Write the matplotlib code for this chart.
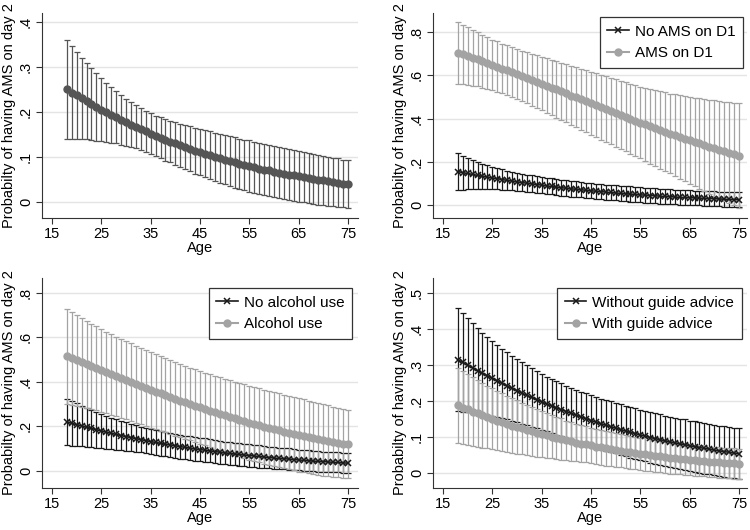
import numpy as np
import matplotlib
matplotlib.use('Agg')
import matplotlib.pyplot as plt
from matplotlib.lines import Line2D

plt.rcParams['font.family'] = ['Liberation Sans', 'DejaVu Sans']

#- ages on the x axis
ages = list(range(18, 76))

#- panel 1: overall predicted probability and CI half-width
p_all = [0.250, 0.243, 0.237, 0.230, 0.224, 0.217, 0.211, 0.205, 0.199, 0.194,
         0.188, 0.182, 0.177, 0.172, 0.167, 0.162, 0.157, 0.152, 0.147, 0.143,
         0.138, 0.134, 0.130, 0.126, 0.122, 0.118, 0.114, 0.111, 0.107, 0.104,
         0.100, 0.097, 0.094, 0.091, 0.088, 0.085, 0.082, 0.080, 0.077, 0.074,
         0.072, 0.070, 0.067, 0.065, 0.063, 0.061, 0.059, 0.057, 0.055, 0.053,
         0.051, 0.049, 0.048, 0.046, 0.044, 0.043, 0.041, 0.040]
ci_all = [0.111, 0.104, 0.097, 0.091, 0.085, 0.080, 0.075, 0.070, 0.066, 0.062,
          0.058, 0.055, 0.052, 0.050, 0.048, 0.047, 0.046, 0.045, 0.045, 0.045,
          0.046, 0.046, 0.047, 0.048, 0.049, 0.050, 0.051, 0.052, 0.052, 0.053,
          0.054, 0.054, 0.055, 0.055, 0.056, 0.056, 0.056, 0.057, 0.057, 0.057,
          0.057, 0.057, 0.057, 0.057, 0.056, 0.056, 0.056, 0.056, 0.056, 0.055,
          0.055, 0.055, 0.055, 0.054, 0.054, 0.054, 0.053, 0.053]

#- panel 2: AMS on day 1
p_noams = [0.155, 0.150, 0.146, 0.142, 0.137, 0.133, 0.129, 0.125, 0.122, 0.118,
           0.114, 0.111, 0.107, 0.104, 0.101, 0.098, 0.095, 0.092, 0.089, 0.086,
           0.083, 0.080, 0.078, 0.075, 0.073, 0.071, 0.068, 0.066, 0.064, 0.062,
           0.060, 0.058, 0.056, 0.054, 0.052, 0.051, 0.049, 0.047, 0.046, 0.044,
           0.043, 0.041, 0.040, 0.039, 0.037, 0.036, 0.035, 0.034, 0.033, 0.032,
           0.031, 0.030, 0.029, 0.028, 0.027, 0.026, 0.025, 0.024]
ci_noams = [0.085, 0.079, 0.073, 0.068, 0.063, 0.059, 0.055, 0.052, 0.049, 0.047,
            0.045, 0.043, 0.042, 0.041, 0.040, 0.039, 0.039, 0.038, 0.038, 0.037,
            0.037, 0.037, 0.036, 0.036, 0.036, 0.036, 0.036, 0.035, 0.035, 0.035,
            0.035, 0.035, 0.035, 0.035, 0.035, 0.035, 0.035, 0.035, 0.035, 0.035,
            0.035, 0.035, 0.035, 0.034, 0.034, 0.034, 0.034, 0.034, 0.034, 0.034,
            0.034, 0.034, 0.034, 0.034, 0.034, 0.034, 0.034, 0.034]
p_ams = [0.705, 0.697, 0.690, 0.682, 0.674, 0.666, 0.657, 0.649, 0.641, 0.632,
         0.624, 0.615, 0.606, 0.598, 0.589, 0.580, 0.571, 0.562, 0.553, 0.544,
         0.535, 0.526, 0.517, 0.507, 0.498, 0.489, 0.480, 0.471, 0.462, 0.453,
         0.444, 0.435, 0.426, 0.417, 0.408, 0.399, 0.390, 0.382, 0.373, 0.364,
         0.356, 0.348, 0.339, 0.331, 0.323, 0.315, 0.307, 0.300, 0.292, 0.285,
         0.277, 0.270, 0.263, 0.256, 0.249, 0.242, 0.235, 0.229]
ci_ams = [0.143, 0.138, 0.133, 0.129, 0.125, 0.122, 0.119, 0.117, 0.116, 0.115,
          0.115, 0.115, 0.116, 0.117, 0.118, 0.120, 0.122, 0.124, 0.126, 0.128,
          0.130, 0.132, 0.134, 0.136, 0.139, 0.141, 0.143, 0.146, 0.148, 0.150,
          0.152, 0.154, 0.156, 0.158, 0.160, 0.162, 0.164, 0.166, 0.169, 0.172,
          0.175, 0.179, 0.182, 0.185, 0.189, 0.193, 0.197, 0.201, 0.205, 0.209,
          0.213, 0.217, 0.221, 0.225, 0.229, 0.233, 0.237, 0.241]

#- panel 3: alcohol use
p_noalc = [0.219, 0.213, 0.207, 0.201, 0.195, 0.190, 0.184, 0.179, 0.173, 0.168,
           0.163, 0.158, 0.153, 0.149, 0.144, 0.140, 0.135, 0.131, 0.127, 0.123,
           0.119, 0.116, 0.112, 0.108, 0.105, 0.101, 0.098, 0.095, 0.092, 0.089,
           0.086, 0.083, 0.080, 0.078, 0.075, 0.073, 0.070, 0.068, 0.066, 0.064,
           0.061, 0.059, 0.057, 0.055, 0.054, 0.052, 0.050, 0.048, 0.047, 0.045,
           0.043, 0.042, 0.041, 0.039, 0.038, 0.037, 0.035, 0.034]
ci_noalc = [0.105, 0.100, 0.096, 0.091, 0.087, 0.084, 0.080, 0.077, 0.074, 0.071,
            0.068, 0.066, 0.064, 0.062, 0.060, 0.058, 0.057, 0.056, 0.055, 0.055,
            0.054, 0.054, 0.054, 0.054, 0.053, 0.053, 0.053, 0.053, 0.053, 0.052,
            0.052, 0.052, 0.051, 0.051, 0.051, 0.051, 0.050, 0.050, 0.050, 0.050,
            0.049, 0.049, 0.049, 0.048, 0.048, 0.048, 0.047, 0.047, 0.047, 0.046,
            0.046, 0.046, 0.045, 0.045, 0.045, 0.045, 0.044, 0.044]
p_alc = [0.514, 0.505, 0.496, 0.487, 0.478, 0.469, 0.460, 0.451, 0.442, 0.433,
         0.424, 0.415, 0.406, 0.398, 0.389, 0.380, 0.372, 0.363, 0.355, 0.347,
         0.339, 0.330, 0.322, 0.315, 0.307, 0.299, 0.292, 0.284, 0.277, 0.270,
         0.263, 0.256, 0.249, 0.242, 0.235, 0.229, 0.223, 0.216, 0.210, 0.204,
         0.198, 0.193, 0.187, 0.182, 0.176, 0.171, 0.166, 0.161, 0.156, 0.152,
         0.147, 0.142, 0.138, 0.134, 0.130, 0.126, 0.122, 0.118]
ci_alc = [0.213, 0.208, 0.204, 0.200, 0.196, 0.192, 0.189, 0.186, 0.183, 0.181,
          0.179, 0.177, 0.175, 0.174, 0.173, 0.172, 0.171, 0.170, 0.169, 0.168,
          0.167, 0.166, 0.165, 0.164, 0.164, 0.163, 0.163, 0.163, 0.163, 0.163,
          0.164, 0.164, 0.164, 0.165, 0.165, 0.165, 0.165, 0.166, 0.166, 0.166,
          0.166, 0.166, 0.166, 0.166, 0.166, 0.165, 0.165, 0.165, 0.164, 0.163,
          0.162, 0.161, 0.160, 0.159, 0.158, 0.156, 0.155, 0.153]

#- panel 4: guide advice
p_noguide = [0.315, 0.307, 0.299, 0.292, 0.284, 0.277, 0.270, 0.263, 0.256, 0.249,
             0.242, 0.235, 0.229, 0.222, 0.216, 0.210, 0.204, 0.198, 0.192, 0.187,
             0.181, 0.176, 0.171, 0.166, 0.161, 0.156, 0.151, 0.146, 0.142, 0.137,
             0.133, 0.129, 0.125, 0.121, 0.117, 0.113, 0.110, 0.106, 0.103, 0.099,
             0.096, 0.093, 0.090, 0.087, 0.084, 0.081, 0.079, 0.076, 0.074, 0.071,
             0.069, 0.067, 0.064, 0.062, 0.060, 0.058, 0.056, 0.054]
ci_noguide = [0.143, 0.136, 0.130, 0.124, 0.118, 0.113, 0.108, 0.104, 0.100, 0.096,
              0.093, 0.090, 0.087, 0.085, 0.083, 0.081, 0.079, 0.077, 0.076, 0.075,
              0.074, 0.073, 0.072, 0.071, 0.071, 0.070, 0.070, 0.070, 0.070, 0.070,
              0.070, 0.070, 0.070, 0.070, 0.070, 0.070, 0.070, 0.070, 0.070, 0.070,
              0.070, 0.070, 0.070, 0.070, 0.070, 0.070, 0.070, 0.070, 0.070, 0.070,
              0.070, 0.070, 0.070, 0.070, 0.070, 0.070, 0.070, 0.070]
p_guide = [0.188, 0.182, 0.177, 0.171, 0.166, 0.161, 0.156, 0.151, 0.146, 0.141,
           0.137, 0.132, 0.128, 0.124, 0.120, 0.116, 0.112, 0.108, 0.105, 0.101,
           0.098, 0.095, 0.091, 0.088, 0.085, 0.082, 0.080, 0.077, 0.074, 0.072,
           0.069, 0.067, 0.064, 0.062, 0.060, 0.058, 0.056, 0.054, 0.052, 0.050,
           0.048, 0.047, 0.045, 0.043, 0.042, 0.040, 0.039, 0.038, 0.036, 0.035,
           0.034, 0.032, 0.031, 0.030, 0.029, 0.028, 0.027, 0.026]
ci_guide = [0.104, 0.101, 0.098, 0.095, 0.092, 0.090, 0.087, 0.085, 0.082, 0.080,
            0.078, 0.076, 0.074, 0.072, 0.070, 0.068, 0.066, 0.064, 0.062, 0.060,
            0.058, 0.057, 0.055, 0.054, 0.052, 0.051, 0.050, 0.049, 0.049, 0.048,
            0.048, 0.047, 0.047, 0.046, 0.046, 0.046, 0.045, 0.045, 0.045, 0.045,
            0.044, 0.044, 0.044, 0.044, 0.044, 0.043, 0.043, 0.043, 0.043, 0.043,
            0.043, 0.042, 0.042, 0.042, 0.042, 0.042, 0.042, 0.042]

#- colours (Stata mono scheme look)
c_dark = '#555555'
c_black = '#1a1a1a'
c_gray = '#a3a3a3'
c_grid = '#e4e4e4'

ylab = 'Probabilty of having AMS on day 2'


def fmt_tick(v):
    #- Stata style: 0, .1, .2 ...
    if abs(v) < 1e-9:
        return '0'
    return ('%.1f' % v).lstrip('0')


def style_axis(ax, yticks, ylim, xlim):
    ax.set_xlim(xlim)
    ax.set_ylim(ylim)
    ax.set_xticks(range(15, 80, 10))
    ax.set_yticks(yticks)
    ax.set_yticklabels([fmt_tick(v) for v in yticks], rotation=90, va='center')
    ax.tick_params(axis='both', length=4, width=0.8, color='#333333',
                   labelsize=10.5, pad=2.5)
    for s in ['top', 'right']:
        ax.spines[s].set_visible(False)
    for s in ['left', 'bottom']:
        ax.spines[s].set_color('#333333')
        ax.spines[s].set_linewidth(0.8)
    ax.yaxis.grid(True, color=c_grid, lw=1)
    ax.set_axisbelow(True)
    ax.set_xlabel('Age', fontsize=10.5, labelpad=0)
    ax.set_ylabel(ylab, fontsize=10.5, labelpad=2)


def draw_ci(ax, p, ci, col):
    ax.errorbar(ages, p, yerr=ci, fmt='none', ecolor=col, elinewidth=0.9,
                capsize=2, capthick=0.9, zorder=2)


def draw_line(ax, p, col, marker):
    if marker == 'o':
        ax.plot(ages, p, color=col, lw=1.5, marker='o', ms=5, mec=col,
                mfc=col, zorder=3)
    else:
        ax.plot(ages, p, color=col, lw=1.2, marker='x', ms=4, mew=1.1,
                zorder=3)


def add_legend(fig, ax, labels, right, top):
    handles = [Line2D([], [], color=c_black, lw=1.2, marker='x', ms=4, mew=1.1),
               Line2D([], [], color=c_gray, lw=1.5, marker='o', ms=5)]
    leg = ax.legend(handles, labels, loc='upper right',
                    bbox_to_anchor=(right / 750, 1 - top / 530),
                    bbox_transform=fig.transFigure, fontsize=11,
                    frameon=True, fancybox=False, edgecolor='#333333',
                    framealpha=1, borderpad=0.5, labelspacing=0.5,
                    handlelength=1.4, handletextpad=0.4, borderaxespad=0)
    leg.get_frame().set_linewidth(0.9)


fig = plt.figure(figsize=(7.5, 5.3), dpi=100)
fig.patch.set_facecolor('white')

ax1 = fig.add_axes([0.056, 0.5887, 0.4213, 0.3868])
ax2 = fig.add_axes([0.5773, 0.5887, 0.4187, 0.3868])
ax3 = fig.add_axes([0.056, 0.0792, 0.4213, 0.3962])
ax4 = fig.add_axes([0.5773, 0.0792, 0.4187, 0.3962])

#- panel 1
draw_ci(ax1, p_all, ci_all, c_dark)
draw_line(ax1, p_all, c_dark, 'o')
style_axis(ax1, [0, 0.1, 0.2, 0.3, 0.4], (-0.0356, 0.42), (12.97, 77.03))

#- panel 2
draw_ci(ax2, p_noams, ci_noams, c_black)
draw_ci(ax2, p_ams, ci_ams, c_gray)
draw_line(ax2, p_noams, c_black, 'x')
draw_line(ax2, p_ams, c_gray, 'o')
style_axis(ax2, [0, 0.2, 0.4, 0.6, 0.8], (-0.060, 0.889), (12.97, 76.63))
add_legend(fig, ax2, ['No AMS on D1', 'AMS on D1'], 743, 17)

#- panel 3
draw_ci(ax3, p_noalc, ci_noalc, c_black)
draw_ci(ax3, p_alc, ci_alc, c_gray)
draw_line(ax3, p_noalc, c_black, 'x')
draw_line(ax3, p_alc, c_gray, 'o')
style_axis(ax3, [0, 0.2, 0.4, 0.6, 0.8], (-0.078, 0.866), (12.97, 77.03))
add_legend(fig, ax3, ['No alcohol use', 'Alcohol use'], 352, 288)

#- panel 4
draw_ci(ax4, p_noguide, ci_noguide, c_black)
draw_ci(ax4, p_guide, ci_guide, c_gray)
draw_line(ax4, p_noguide, c_black, 'x')
draw_line(ax4, p_guide, c_gray, 'o')
style_axis(ax4, [0, 0.1, 0.2, 0.3, 0.4, 0.5], (-0.041, 0.541), (12.97, 76.63))
add_legend(fig, ax4, ['Without guide advice', 'With guide advice'], 742, 288)

fig.savefig('out.png', dpi=100, facecolor='white')
